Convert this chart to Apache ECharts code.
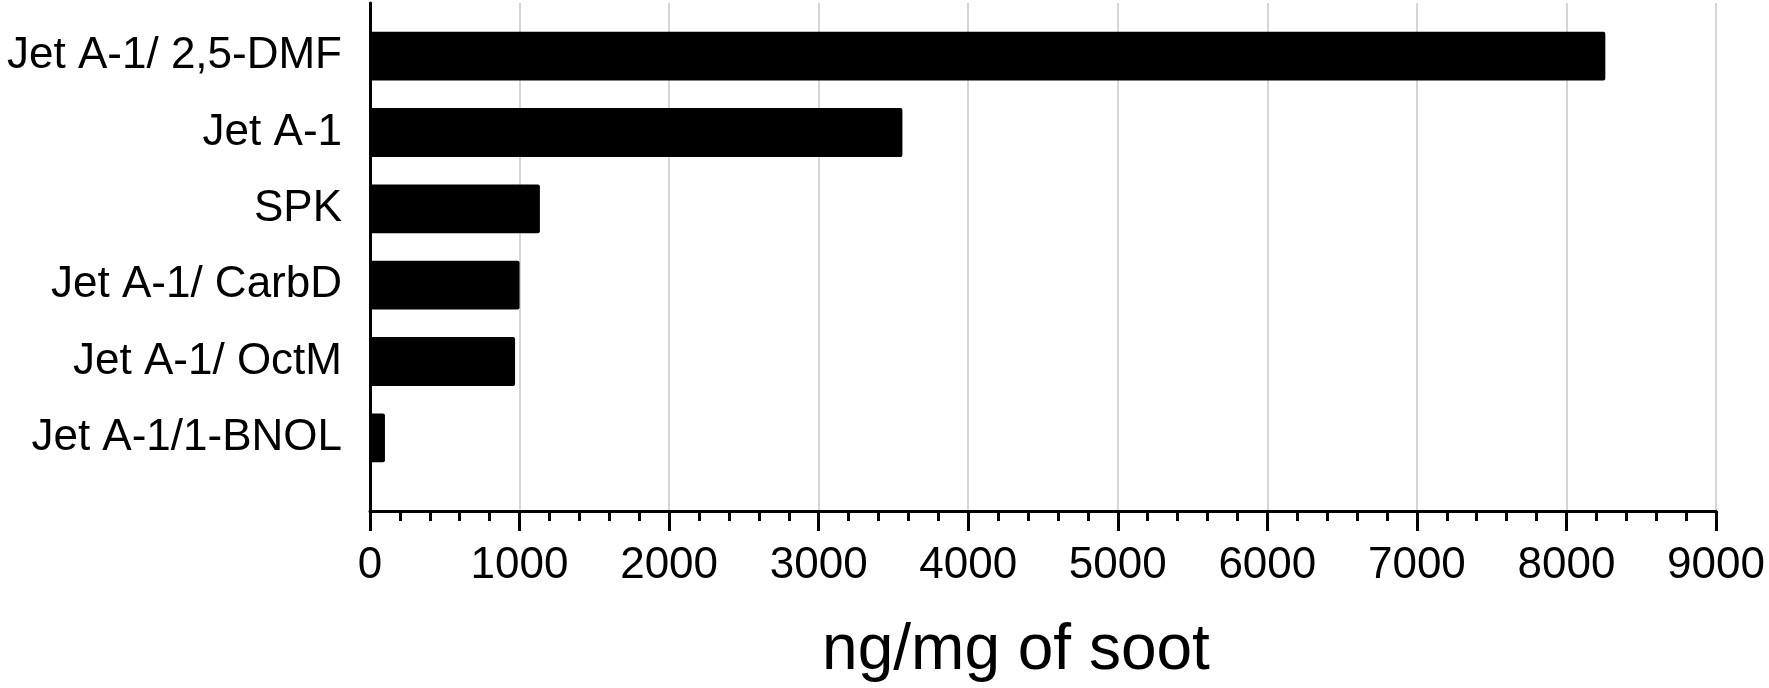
<!DOCTYPE html>
<html>
<head>
<meta charset="utf-8">
<script src="https://cdn.jsdelivr.net/npm/echarts@6/dist/echarts.min.js"></script>
<style>
html,body{margin:0;padding:0;background:#fff;}
#chart{width:1769px;height:688px;}
</style>
</head>
<body>
<div id="chart"></div>
<script>
const categories = ['Jet A-1/ 2,5-DMF', 'Jet A-1', 'SPK', 'Jet A-1/ CarbD', 'Jet A-1/ OctM', 'Jet A-1/1-BNOL'];
const values = [8260, 3560, 1136, 1000, 970, 100];
const xTicks = [0, 1000, 2000, 3000, 4000, 5000, 6000, 7000, 8000, 9000];
const axisTitle = 'ng/mg of soot';

const FONT = "'Liberation Sans', Arial, sans-serif";
const chart = echarts.init(document.getElementById('chart'), null, {renderer: 'canvas'});
chart.setOption({
  backgroundColor: '#ffffff',
  animation: false,
  grid: [
    {left: 370, right: 53, top: 18, bottom: 212},
    {left: 370, right: 53, top: 3, bottom: 173}
  ],
  xAxis: [
    {gridIndex: 0, type: 'value', min: xTicks[0], max: xTicks[xTicks.length - 1], show: false},
    {
      gridIndex: 1, type: 'value', min: xTicks[0], max: xTicks[xTicks.length - 1], interval: 1000,
      axisLine: {show: true, onZero: false, lineStyle: {color: '#000', width: 3}},
      axisTick: {show: true, length: 20, lineStyle: {color: '#000', width: 3}},
      minorTick: {show: true, splitNumber: 5, length: 10, lineStyle: {color: '#000', width: 3}},
      splitLine: {show: true, lineStyle: {color: '#c8c8c8', width: 1.5}},
      axisLabel: {color: '#000', fontSize: 44, fontFamily: FONT, margin: 33,
        formatter: function (v) { return String(v); }},
      name: axisTitle, nameLocation: 'middle', nameGap: 108,
      nameTextStyle: {color: '#000', fontSize: 64, fontFamily: FONT, padding: [0, 54, 0, 0]}
    }
  ],
  yAxis: [
    {
      gridIndex: 0, type: 'category', data: categories, inverse: true,
      axisLine: {show: false}, axisTick: {show: false}, splitLine: {show: false},
      axisLabel: {color: '#000', fontSize: 44, fontFamily: FONT, margin: 28}
    },
    {
      gridIndex: 1, type: 'value', min: 0, max: 1,
      axisLine: {show: true, onZero: false, lineStyle: {color: '#000', width: 3}},
      axisTick: {show: false}, axisLabel: {show: false}, splitLine: {show: false}
    }
  ],
  series: [{
    type: 'bar', xAxisIndex: 0, yAxisIndex: 0,
    data: values, barCategoryGap: '36%',
    itemStyle: {color: '#000', borderRadius: 2},
    z: 3
  }]
});
</script>
</body>
</html>
